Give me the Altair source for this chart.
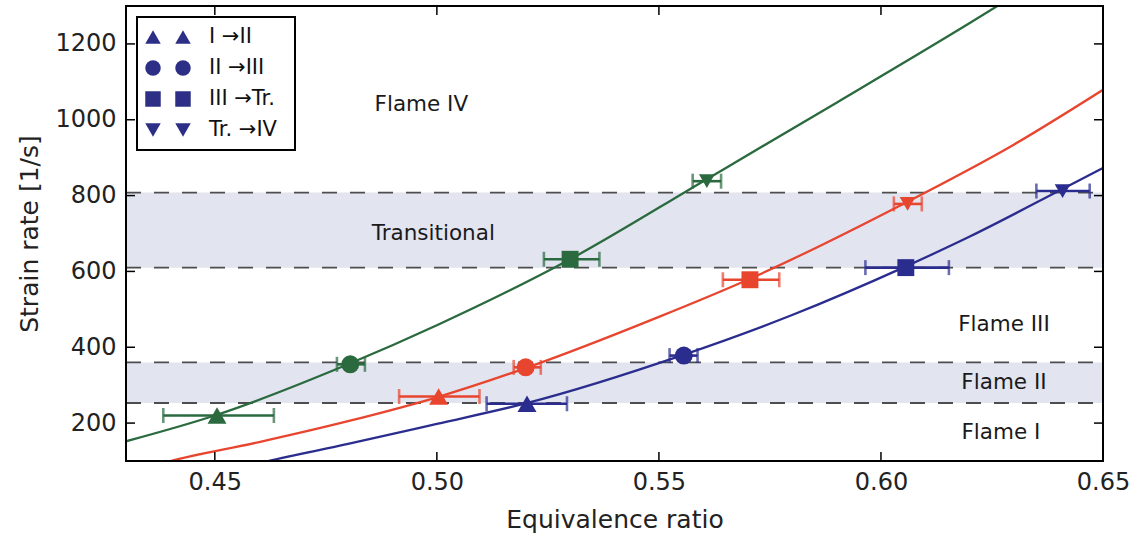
import altair as alt
import pandas as pd

# ---------------- data ----------------
transitions = ["I →II", "II →III", "III →Tr.", "Tr. →IV"]
shapes = ["triangle-up", "circle", "square", "triangle-down"]
series_names = ["green", "red", "blue"]
series_colors = ["#2a6a3e", "#e8452f", "#2b2d8e"]

# measured transition points (equivalence ratio, lower/upper error, strain rate)
green_phi = [0.4505, 0.4805, 0.5300, 0.5608]
green_lo = [0.4384, 0.4775, 0.5241, 0.5576]
green_hi = [0.4633, 0.4838, 0.5366, 0.5640]
green_sr = [220, 355, 632, 838]

red_phi = [0.5004, 0.5200, 0.5705, 0.6060]
red_lo = [0.4915, 0.5173, 0.5644, 0.6029]
red_hi = [0.5096, 0.5234, 0.5771, 0.6092]
red_sr = [270, 347, 578, 778]

blue_phi = [0.5203, 0.5556, 0.6056, 0.6409]
blue_lo = [0.5112, 0.5524, 0.5965, 0.6350]
blue_hi = [0.5293, 0.5587, 0.6153, 0.6470]
blue_sr = [251, 378, 610, 812]

# fitted curves
green_curve_phi = [0.430, 0.450, 0.480, 0.500, 0.530, 0.560, 0.590, 0.620, 0.640]
green_curve_sr = [152, 220, 355, 458, 632, 838, 1045, 1255, 1400]
red_curve_phi = [0.435, 0.440, 0.460, 0.480, 0.500, 0.520, 0.550, 0.570, 0.605, 0.630, 0.650]
red_curve_sr = [85, 100, 150, 205, 268, 345, 480, 578, 778, 935, 1079]
blue_curve_phi = [0.455, 0.462, 0.480, 0.500, 0.520, 0.555, 0.580, 0.605, 0.620, 0.640, 0.650]
blue_curve_sr = [80, 100, 145, 198, 252, 378, 485, 610, 692, 812, 873]

# regime boundaries and bands
dashed_levels = [253, 360, 610, 808]
band_lo = [253, 610]
band_hi = [360, 808]

labels_text = ["Flame IV", "Transitional", "Flame III", "Flame II", "Flame I"]
labels_phi = [0.4965, 0.4992, 0.6277, 0.6277, 0.6270]
labels_sr = [1040, 700, 460, 307, 175]

x_ticks = [0.45, 0.50, 0.55, 0.60, 0.65]
y_ticks = [200, 400, 600, 800, 1000, 1200]
X_DOMAIN = [0.43, 0.65]
Y_DOMAIN = [100, 1300]

# ---------------- layout / style ----------------
W, H = 977, 455
FONT = "DejaVu Sans"
LEGEND_COLOR = "#2d2f86"
TICK_LEN = 9
TEXT_COLOR = "#222222"

# ---------------- tables ----------------
pts_rows, cap_rows, curve_rows = [], [], []
for name, phi, lo, hi, sr, cphi, csr in [
    ("green", green_phi, green_lo, green_hi, green_sr, green_curve_phi, green_curve_sr),
    ("red", red_phi, red_lo, red_hi, red_sr, red_curve_phi, red_curve_sr),
    ("blue", blue_phi, blue_lo, blue_hi, blue_sr, blue_curve_phi, blue_curve_sr),
]:
    for i in range(4):
        pts_rows.append(dict(series=name, trans=transitions[i], phi=phi[i], lo=lo[i], hi=hi[i], sr=sr[i]))
        cap_rows.append(dict(series=name, phi=lo[i], sr=sr[i]))
        cap_rows.append(dict(series=name, phi=hi[i], sr=sr[i]))
    for p, s in zip(cphi, csr):
        curve_rows.append(dict(series=name, phi=p, sr=s))

pts = pd.DataFrame(pts_rows)
caps = pd.DataFrame(cap_rows)
curves = pd.DataFrame(curve_rows)
bands = pd.DataFrame({"lo": band_lo, "hi": band_hi})
dashes = pd.DataFrame({"level": dashed_levels})
ann = pd.DataFrame({"label": labels_text, "phi": labels_phi, "sr": labels_sr})
xt = pd.DataFrame({"v": x_ticks})
yt = pd.DataFrame({"v": y_ticks})

xscale = alt.Scale(domain=X_DOMAIN, nice=False, zero=False)
yscale = alt.Scale(domain=Y_DOMAIN, nice=False, zero=False)
cscale = alt.Scale(domain=series_names, range=series_colors)
sscale = alt.Scale(domain=transitions, range=shapes)

axis_style = dict(labelFont=FONT, titleFont=FONT, labelFontSize=24, titleFontSize=25,
                  labelColor=TEXT_COLOR, titleColor=TEXT_COLOR, titleFontWeight="normal",
                  ticks=False, domain=False, grid=False, labelOverlap=False)
xaxis = alt.Axis(values=x_ticks, format=".2f", title="Equivalence ratio", labelFlush=False,
                 labelPadding=9, titlePadding=13, **axis_style)
yaxis = alt.Axis(values=y_ticks, format="d", title="Strain rate [1/s]",
                 labelPadding=10, titlePadding=12, **axis_style)

base_x = alt.X("phi:Q", scale=xscale, axis=xaxis)
base_y = alt.Y("sr:Q", scale=yscale, axis=yaxis)

band_layer = alt.Chart(bands).mark_rect(color="#e2e4f0").encode(
    x=alt.value(0), x2=alt.value(W),
    y=alt.Y("lo:Q", scale=yscale, axis=yaxis), y2="hi:Q")

dash_layer = alt.Chart(dashes).mark_rule(color="#4d4d4d", strokeWidth=1.8, strokeDash=[15, 13]).encode(
    x=alt.value(0), x2=alt.value(W), y=alt.Y("level:Q", scale=yscale, axis=yaxis))

curve_layer = alt.Chart(curves).mark_line(clip=True, interpolate="monotone", strokeWidth=2.3).encode(
    x=base_x, y=base_y, color=alt.Color("series:N", scale=cscale, legend=None))

err_layer = alt.Chart(pts).mark_rule(strokeWidth=2.6, clip=True).encode(
    x=alt.X("lo:Q", scale=xscale, axis=xaxis), x2="hi:Q", y=base_y,
    color=alt.Color("series:N", scale=cscale, legend=None))

cap_layer = alt.Chart(caps).mark_tick(orient="vertical", size=15, thickness=2.6).encode(
    x=base_x, y=base_y, color=alt.Color("series:N", scale=cscale, legend=None))

pt_layer = alt.Chart(pts).mark_point(filled=True, opacity=1).encode(
    x=base_x, y=base_y,
    color=alt.Color("series:N", scale=cscale, legend=None),
    shape=alt.Shape("trans:N", scale=sscale, legend=None),
    size=alt.Size("trans:N", scale=alt.Scale(domain=transitions, range=[360, 250, 260, 360]), legend=None))

ann_layer = alt.Chart(ann).mark_text(font=FONT, fontSize=21.5, color="#1a1a1a", align="center",
                                      baseline="middle").encode(
    x=base_x, y=base_y, text="label:N")

tick_style = dict(color="black", strokeWidth=1.5)
left_ticks = alt.Chart(yt).mark_rule(**tick_style).encode(
    x=alt.value(0), x2=alt.value(TICK_LEN), y=alt.Y("v:Q", scale=yscale, axis=yaxis))
right_ticks = alt.Chart(yt).mark_rule(**tick_style).encode(
    x=alt.value(W - TICK_LEN), x2=alt.value(W), y=alt.Y("v:Q", scale=yscale, axis=yaxis))
bottom_ticks = alt.Chart(xt).mark_rule(**tick_style).encode(
    y=alt.value(H - TICK_LEN), y2=alt.value(H), x=alt.X("v:Q", scale=xscale, axis=xaxis))
top_ticks = alt.Chart(xt).mark_rule(**tick_style).encode(
    y=alt.value(0), y2=alt.value(TICK_LEN), x=alt.X("v:Q", scale=xscale, axis=xaxis))

frame = alt.Chart(pd.DataFrame({"a": [0]})).mark_rect(filled=False, stroke="black", strokeWidth=2).encode(
    x=alt.value(0), x2=alt.value(W), y=alt.value(0), y2=alt.value(H))

# manual legend (two markers per entry, as in the original)
LEG_X0, LEG_X1, LEG_Y0, LEG_Y1 = 11, 169, 11, 144
leg_layers = [alt.Chart(pd.DataFrame({"a": [0]})).mark_rect(fill="white", stroke="black", strokeWidth=2).encode(
    x=alt.value(LEG_X0), x2=alt.value(LEG_X1), y=alt.value(LEG_Y0), y2=alt.value(LEG_Y1))]
for i, (lab, shp) in enumerate(zip(transitions, shapes)):
    row_y = LEG_Y0 + 20 + i * 31
    one = pd.DataFrame({"label": [lab]})
    for mx in (LEG_X0 + 16, LEG_X0 + 46):
        leg_layers.append(alt.Chart(one).mark_point(filled=True, shape=shp, size=240, opacity=1,
                                                    color=LEGEND_COLOR).encode(
            x=alt.value(mx), y=alt.value(row_y)))
    leg_layers.append(alt.Chart(one).mark_text(font=FONT, fontSize=21, align="left", baseline="middle",
                                               color="#111").encode(
        x=alt.value(LEG_X0 + 72), y=alt.value(row_y), text="label:N"))

chart = alt.layer(
    band_layer, dash_layer, curve_layer, err_layer, cap_layer, pt_layer, ann_layer,
    left_ticks, right_ticks, bottom_ticks, top_ticks, frame, *leg_layers
).properties(
    width=W, height=H,
    autosize=alt.AutoSizeParams(type="none"),
    padding={"left": 126, "top": 6, "right": 34, "bottom": 79},
).configure(background="white").configure_view(stroke=None)

chart.save("out.html", embed_options={"renderer": "svg", "actions": False})
